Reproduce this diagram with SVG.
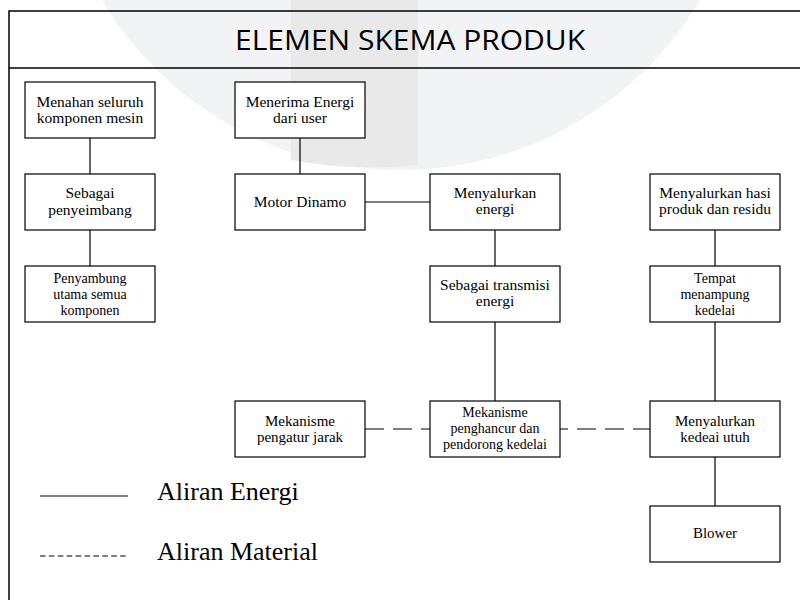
<svg xmlns="http://www.w3.org/2000/svg" width="800" height="600" viewBox="0 0 800 600">
<style>
.box{fill:#fff;stroke:#000;stroke-width:1.2}
.t{font-family:"Liberation Serif","Times New Roman",serif;font-size:15.5px;text-anchor:middle;fill:#000}
.ts{font-family:"Liberation Serif","Times New Roman",serif;font-size:15px;text-anchor:middle;fill:#000}
.t3{font-family:"Liberation Serif","Times New Roman",serif;font-size:14px;text-anchor:middle;fill:#000}
.c{stroke:#000;stroke-width:1.2;fill:none}
.d{stroke:#000;stroke-width:1.2;fill:none;stroke-dasharray:19 9}
.frame{stroke:#000;stroke-width:1.5;fill:none}
.leg{font-family:"Liberation Serif","Times New Roman",serif;font-size:26px;fill:#000}
</style>
<rect x="0" y="0" width="800" height="600" fill="#fff"/>
<g id="watermark">
<path d="M102,0 A348,348 0 0 0 700,0 Z" fill="#f2f3f5"/>
<path d="M291,0 L418,0 L418,165 Q355,172 291,160 Z" fill="#e9e9ea"/>
</g>
<g id="frame">
<path class="frame" d="M9,600 L9,11 L800,11"/>
<line class="frame" x1="9" y1="68" x2="800" y2="68"/>
<text x="410" y="50" font-family="Open Sans, Liberation Sans, sans-serif" font-size="28" text-anchor="middle" textLength="350" lengthAdjust="spacingAndGlyphs" fill="#000">ELEMEN SKEMA PRODUK</text>
</g>
<g id="connectors">
<line class="c" x1="90" y1="138" x2="90" y2="174"/>
<line class="c" x1="90" y1="230" x2="90" y2="266"/>
<line class="c" x1="300" y1="138" x2="300" y2="174"/>
<line class="c" x1="365" y1="202" x2="430" y2="202"/>
<line class="c" x1="495" y1="230" x2="495" y2="266"/>
<line class="c" x1="495" y1="322" x2="495" y2="401"/>
<line class="c" x1="715" y1="230" x2="715" y2="266"/>
<line class="c" x1="715" y1="322" x2="715" y2="401"/>
<line class="c" x1="715" y1="457" x2="715" y2="506"/>
<line class="d" x1="365" y1="429" x2="430" y2="429"/>
<line class="d" x1="560" y1="429" x2="650" y2="429" stroke-dashoffset="11"/>
</g>
<g id="n1"><rect class="box" x="25" y="82" width="130" height="56"/><text class="t" x="90" y="107">Menahan seluruh</text><text class="t" x="90" y="123">komponen mesin</text></g>
<g id="n2"><rect class="box" x="25" y="174" width="130" height="56"/><text class="t" x="90" y="198">Sebagai</text><text class="t" x="90" y="215">penyeimbang</text></g>
<g id="n3"><rect class="box" x="25" y="266" width="130" height="56"/><text class="t3" x="90" y="283">Penyambung</text><text class="t3" x="90" y="299">utama semua</text><text class="t3" x="90" y="315">komponen</text></g>
<g id="n4"><rect class="box" x="235" y="82" width="130" height="56"/><text class="t" x="300" y="107">Menerima Energi</text><text class="t" x="300" y="123">dari user</text></g>
<g id="n5"><rect class="box" x="235" y="174" width="130" height="56"/><text class="t" x="300" y="207">Motor Dinamo</text></g>
<g id="n6"><rect class="box" x="430" y="174" width="130" height="56"/><text class="t" x="495" y="198">Menyalurkan</text><text class="t" x="495" y="214">energi</text></g>
<g id="n7"><rect class="box" x="430" y="266" width="130" height="56"/><text class="t" x="495" y="290">Sebagai transmisi</text><text class="t" x="495" y="306">energi</text></g>
<g id="n8"><rect class="box" x="650" y="174" width="130" height="56"/><text class="t" x="715" y="198">Menyalurkan hasi</text><text class="t" x="715" y="214">produk dan residu</text></g>
<g id="n9"><rect class="box" x="650" y="266" width="130" height="56"/><text class="t3" x="715" y="283">Tempat</text><text class="t3" x="715" y="299">menampung</text><text class="t3" x="715" y="315">kedelai</text></g>
<g id="n10"><rect class="box" x="235" y="401" width="130" height="56"/><text class="ts" x="300" y="426">Mekanisme</text><text class="ts" x="300" y="442">pengatur jarak</text></g>
<g id="n11"><rect class="box" x="430" y="401" width="130" height="56"/><text class="t3" x="495" y="417">Mekanisme</text><text class="t3" x="495" y="433">penghancur dan</text><text class="t3" x="495" y="449">pendorong kedelai</text></g>
<g id="n12"><rect class="box" x="650" y="401" width="130" height="56"/><text class="ts" x="715" y="426">Menyalurkan</text><text class="ts" x="715" y="442">kedeai utuh</text></g>
<g id="n13"><rect class="box" x="650" y="506" width="130" height="56"/><text class="ts" x="715" y="538">Blower</text></g>
<g id="legend">
<line class="c" x1="40" y1="496" x2="128" y2="496"/>
<text class="leg" x="157" y="500">Aliran Energi</text>
<line x1="40" y1="556" x2="129" y2="556" stroke="#000" stroke-width="1.2" stroke-dasharray="5.6 3.3"/>
<text class="leg" x="157" y="560">Aliran Material</text>
</g>
</svg>
